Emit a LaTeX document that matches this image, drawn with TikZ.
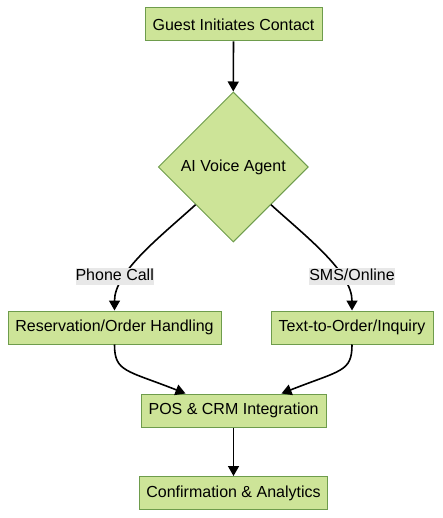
\documentclass[tikz,border=0pt]{standalone}
\usepackage{fontspec}
\setmainfont{Liberation Sans}
\usetikzlibrary{shapes.geometric,arrows.meta}
\definecolor{boxfill}{HTML}{CDE498}
\definecolor{boxline}{HTML}{6E9C4C}
\definecolor{lblfill}{HTML}{E8E8E8}
\begin{document}
\begin{tikzpicture}[x=1pt,y=-1pt,
  every node/.style={font=\fontsize{16}{19}\selectfont, text=black},
  procbox/.style={draw=boxline, fill=boxfill, line width=1pt, minimum height=33pt, inner sep=0pt},
  decbox/.style={diamond, draw=boxline, fill=boxfill, line width=1pt, minimum width=150pt, minimum height=150pt, inner sep=0pt, aspect=1},
  lbl/.style={fill=lblfill, inner xsep=0pt, inner ysep=1pt, text height=12pt, text depth=3pt},
  conn/.style={draw=black, line width=1.6pt, -{Triangle[length=10pt,width=11pt]}}
]
\useasboundingbox (0,0) rectangle (442,518);
\node[procbox, minimum width=177pt] (guest) at (233.5,24.5) {Guest Initiates Contact};
\node[decbox] (ai) at (233.25,167) {AI Voice Agent};
\node[procbox, minimum width=213pt] (res) at (114.5,327.5) {Reservation/Order Handling};
\node[procbox, minimum width=162pt] (txt) at (352,327.5) {Text-to-Order/Inquiry};
\node[procbox, minimum width=185pt] (pos) at (233.5,410.5) {POS \& CRM Integration};
\node[procbox, minimum width=188pt] (conf) at (233.5,493) {Confirmation \& Analytics};

\draw[conn] (guest.south) -- (ai.north);
\draw[conn] (ai.south west) .. controls (160,237) and (114.5,272) .. (res.north);
\draw[conn] (ai.south east) .. controls (306.5,237) and (352,272) .. (txt.north);
\draw[conn] (res.south) .. controls (114.5,372) and (126,370) .. ([xshift=-48pt]pos.north);
\draw[conn] (txt.south) .. controls (352,372) and (341,370) .. ([xshift=48pt]pos.north);
\draw[conn] (pos.south) -- (conf.north);

\node[lbl] (lphone) at (114.7,276.3) {Phone Call};
\node[lbl] (lsms) at (352,276.3) {SMS/Online};
\end{tikzpicture}
\end{document}
